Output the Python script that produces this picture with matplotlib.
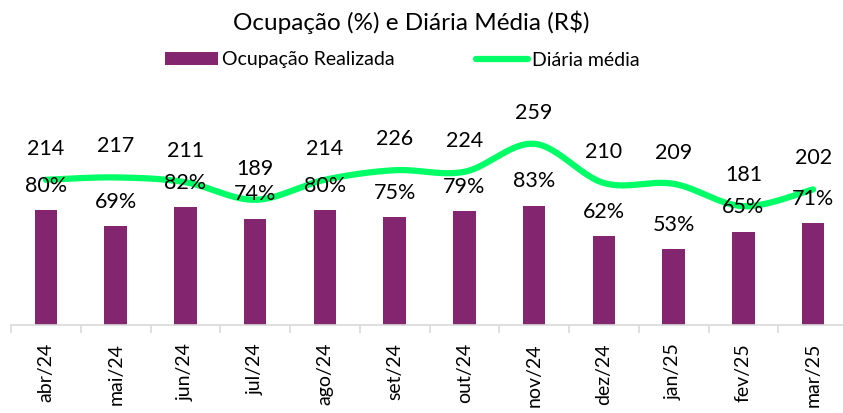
import numpy as np
import matplotlib
matplotlib.use("Agg")
import matplotlib.pyplot as plt
from matplotlib.patches import Patch
from matplotlib.lines import Line2D

plt.rcParams['font.family'] = ['Lato', 'DejaVu Sans']

categories = ["abr/24", "mai/24", "jun/24", "jul/24", "ago/24", "set/24",
              "out/24", "nov/24", "dez/24", "jan/25", "fev/25", "mar/25"]
ocupacao = [80, 69, 82, 74, 80, 75, 79, 83, 62, 53, 65, 71]
diaria = [214, 217, 211, 189, 214, 226, 224, 259, 210, 209, 181, 202]

BAR = "#83266F"
GREEN = "#00FF66"

W, H = 843, 413
fig = plt.figure(figsize=(W / 100, H / 100), dpi=100)
ax = fig.add_axes([11 / W, 1 - 325 / H, 837 / W, (325 - 80) / H])
ax2 = ax.twinx()

x = np.arange(len(categories))
ax.bar(x, ocupacao, width=0.32, color=BAR, zorder=2)
ax.set_xlim(-0.5, len(categories) - 0.5)
ax.set_ylim(0, 245 / 1.4375)

# smoothed line (Excel-like Catmull-Rom Bezier)
def smooth(xs, ys, n=30):
    xs = np.asarray(xs, float); ys = np.asarray(ys, float)
    P = np.column_stack([xs, ys])
    out = []
    for i in range(len(P) - 1):
        p0 = P[i - 1] if i > 0 else P[i]
        p1 = P[i]
        p2 = P[i + 1]
        p3 = P[i + 2] if i + 2 < len(P) else P[i + 1]
        c1 = p1 + (p2 - p0) / 6
        c2 = p2 - (p3 - p1) / 6
        t = np.linspace(0, 1, n)[:, None]
        seg = (1 - t) ** 3 * p1 + 3 * (1 - t) ** 2 * t * c1 + 3 * (1 - t) * t ** 2 * c2 + t ** 3 * p2
        out.append(seg if i == 0 else seg[1:])
    out = np.vstack(out)
    return out[:, 0], out[:, 1]

sx, sy = smooth(x, diaria)
ax2.plot(sx, sy, color=GREEN, lw=4.5, solid_capstyle='round', zorder=3)
ax2.set_ylim(32.5, 338.75)

for xi, v in zip(x, ocupacao):
    ax2.annotate(f"{v}%", (xi, v), xycoords=ax.transData, xytext=(0, 17.5),
                 textcoords='offset points', ha='center', va='center',
                 fontsize=15.5, color='black', zorder=5)
for xi, v in zip(x, diaria):
    ax2.annotate(f"{v}", (xi, v), xytext=(0, 22.5), textcoords='offset points',
                 ha='center', va='center', fontsize=15.5, color='black', zorder=5)

for a in (ax, ax2):
    for s in ('top', 'right', 'left'):
        a.spines[s].set_visible(False)
    a.set_yticks([])
ax2.spines['bottom'].set_visible(False)
ax.spines['bottom'].set_color('#D9D9D9')
ax.spines['bottom'].set_linewidth(1.2)

ax.set_xticks(x)
ax.set_xticklabels(categories, rotation=90, fontsize=14)
ax.tick_params(axis='x', which='major', length=0, pad=13)
ax.set_xticks(np.arange(-0.5, len(categories), 1), minor=True)
ax.tick_params(axis='x', which='minor', length=6, color='#D9D9D9', width=1.2)

fig.text(411 / W, 1 - 22 / H, "Ocupação (%) e Diária Média (R$)", ha='center', va='center',
         fontsize=17.5)

handles = [Patch(facecolor=BAR, edgecolor='none'),
           Line2D([0], [0], color=GREEN, lw=4.5, solid_capstyle='round')]
fig.legend(handles, ["Ocupação Realizada", "Diária média"], loc='center',
           bbox_to_anchor=(402.5 / W, 1 - 60 / H), ncol=2, frameon=False, fontsize=14,
           handlelength=2.7, handleheight=0.62, handletextpad=0.2, columnspacing=4.2)

fig.savefig("out.png", dpi=100)
